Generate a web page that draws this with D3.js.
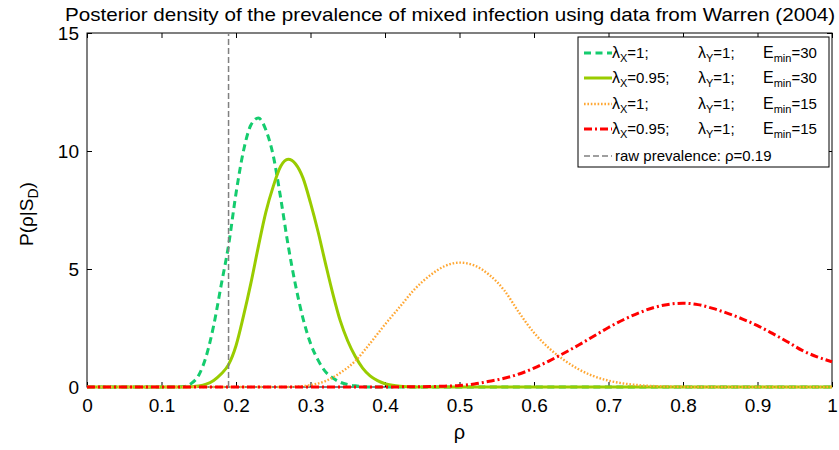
<!DOCTYPE html>
<html><head><meta charset="utf-8">
<script src="https://cdn.jsdelivr.net/npm/d3@7"></script>
<style>body{margin:0;background:#fff} text{font-family:"Liberation Sans",Arial,Helvetica,sans-serif}</style>
</head><body><svg id="c" width="839" height="450"></svg>
<script>
// ---------- data ----------
const xTicks = [0, 0.1, 0.2, 0.3, 0.4, 0.5, 0.6, 0.7, 0.8, 0.9, 1];
const xTickLabels = ["0", "0.1", "0.2", "0.3", "0.4", "0.5", "0.6", "0.7", "0.8", "0.9", "1"];
const yTicks = [0, 5, 10, 15];
const yTickLabels = ["0", "5", "10", "15"];
const rawPrevalence = 0.19;

// λX=1; λY=1; Emin=30
const rhoA = [0, 0.12, 0.13, 0.14, 0.15, 0.16, 0.17, 0.18, 0.19, 0.20, 0.21, 0.22, 0.23, 0.24, 0.25, 0.26, 0.27, 0.28, 0.29, 0.30, 0.31, 0.32, 0.33, 0.34, 0.35, 0.36, 0.37, 0.38, 1];
const densA = [0, 0, 0.02, 0.15, 0.5, 1.3, 2.6, 4.3, 6.0, 8.2, 10.0, 11.1, 11.4, 10.9, 9.8, 8.0, 6.0, 4.3, 2.9, 1.85, 1.15, 0.65, 0.38, 0.2, 0.1, 0.05, 0.02, 0, 0];
// λX=0.95; λY=1; Emin=30
const rhoB = [0, 0.13, 0.14, 0.15, 0.16, 0.17, 0.18, 0.19, 0.20, 0.21, 0.22, 0.23, 0.24, 0.25, 0.26, 0.27, 0.28, 0.29, 0.30, 0.31, 0.32, 0.33, 0.34, 0.35, 0.36, 0.37, 0.38, 0.39, 0.40, 0.41, 0.42, 0.43, 0.44, 1];
const densB = [0, 0, 0.01, 0.04, 0.12, 0.28, 0.55, 0.95, 1.75, 3.0, 4.4, 5.95, 7.4, 8.5, 9.35, 9.65, 9.45, 8.85, 7.8, 6.6, 5.25, 3.95, 2.8, 1.95, 1.3, 0.8, 0.47, 0.27, 0.14, 0.07, 0.03, 0.01, 0, 0];
// λX=1; λY=1; Emin=15
const rhoC = [0, 0.26, 0.28, 0.30, 0.32, 0.34, 0.36, 0.38, 0.40, 0.42, 0.44, 0.46, 0.48, 0.50, 0.52, 0.54, 0.56, 0.58, 0.60, 0.62, 0.64, 0.66, 0.68, 0.70, 0.72, 0.74, 0.76, 0.78, 0.80, 0.82, 1];
const densC = [0, 0, 0.01, 0.08, 0.25, 0.6, 1.1, 1.85, 2.65, 3.4, 4.15, 4.72, 5.12, 5.27, 5.15, 4.75, 4.1, 3.15, 2.3, 1.65, 1.15, 0.75, 0.46, 0.27, 0.15, 0.08, 0.04, 0.02, 0.01, 0, 0];
// λX=0.95; λY=1; Emin=15
const rhoD = [0, 0.40, 0.42, 0.44, 0.46, 0.48, 0.50, 0.52, 0.54, 0.56, 0.58, 0.60, 0.62, 0.64, 0.66, 0.68, 0.70, 0.72, 0.74, 0.76, 0.78, 0.80, 0.82, 0.84, 0.86, 0.88, 0.90, 0.92, 0.94, 0.96, 0.98, 1.00];
const densD = [0, 0, 0.005, 0.01, 0.02, 0.035, 0.06, 0.13, 0.24, 0.37, 0.55, 0.8, 1.1, 1.43, 1.78, 2.15, 2.52, 2.85, 3.13, 3.36, 3.5, 3.55, 3.49, 3.33, 3.12, 2.88, 2.6, 2.27, 1.92, 1.55, 1.28, 1.07];

const lambdaX = ["1", "0.95", "1", "0.95"];
const lambdaY = ["1", "1", "1", "1"];
const eMin = ["30", "30", "15", "15"];

// ---------- styles ----------
const series = [
  {rho: rhoA, dens: densA, color: "#14cc6e", width: 3, dash: "7,4.5"},
  {rho: rhoB, dens: densB, color: "#99cc00", width: 3, dash: null},
  {rho: rhoC, dens: densC, color: "#ffa733", width: 2.4, dash: "1.6,1.8"},
  {rho: rhoD, dens: densD, color: "#ff0000", width: 3, dash: "8,3,2,3"}
];

const svg = d3.select("#c");
const x = d3.scaleLinear().domain([0, 1]).range([87, 832]);
const y = d3.scaleLinear().domain([0, 15]).range([387, 33]);

// title
svg.append("text").attr("x", 65).attr("y", 21).attr("font-size", 19)
  .attr("textLength", 770).attr("lengthAdjust", "spacingAndGlyphs")
  .text("Posterior density of the prevalence of mixed infection using data from Warren (2004)");

// axes
const fmtX = d => xTickLabels[xTicks.indexOf(d)];
const fmtY = d => yTickLabels[yTicks.indexOf(d)];
const gB = svg.append("g").attr("transform", "translate(0,387)")
  .call(d3.axisBottom(x).tickValues(xTicks).tickFormat(fmtX).tickSizeInner(-5).tickSizeOuter(0).tickPadding(12));
const gT = svg.append("g").attr("transform", "translate(0,33)")
  .call(d3.axisTop(x).tickValues(xTicks).tickFormat("").tickSizeInner(-5).tickSizeOuter(0));
const gL = svg.append("g").attr("transform", "translate(87,0)")
  .call(d3.axisLeft(y).tickValues(yTicks).tickFormat(fmtY).tickSizeInner(-5).tickSizeOuter(0).tickPadding(8));
const gR = svg.append("g").attr("transform", "translate(832,0)")
  .call(d3.axisRight(y).tickValues(yTicks).tickFormat("").tickSizeInner(-5).tickSizeOuter(0));
[gB, gT, gL, gR].forEach(g => {
  g.select(".domain").remove();
  g.selectAll("line").attr("stroke", "#000");
  g.selectAll("text").attr("font-size", 19).attr("fill", "#000")
    .style("font-family", '"Liberation Sans",Arial,sans-serif');
});
svg.append("rect").attr("x", x(0)).attr("y", y(15)).attr("width", x(1) - x(0)).attr("height", y(0) - y(15))
  .attr("fill", "none").attr("stroke", "#000").attr("stroke-width", 1);

// axis labels
svg.append("text").attr("x", x(0.5)).attr("y", 439).attr("text-anchor", "middle").attr("font-size", 20).text("ρ");
const yl = svg.append("text").attr("transform", "translate(33,214) rotate(-90)").attr("text-anchor", "middle").attr("font-size", 19);
yl.append("tspan").text("P(ρ|S");
yl.append("tspan").attr("font-size", 14).attr("dy", 5).text("D");
yl.append("tspan").attr("dy", -5).text(")");

// curves
const line = d3.line().x(d => x(d[0])).y(d => y(d[1])).curve(d3.curveMonotoneX);
series.forEach(s => {
  const pts = s.rho.map((r, i) => [r, s.dens[i]]);
  svg.append("path").attr("d", line(pts)).attr("fill", "none")
    .attr("stroke", s.color).attr("stroke-width", s.width)
    .attr("stroke-dasharray", s.dash);
});
// raw prevalence
svg.append("line").attr("x1", x(rawPrevalence)).attr("x2", x(rawPrevalence))
  .attr("y1", y(0)).attr("y2", y(15)).attr("stroke", "#808080").attr("stroke-width", 1.5)
  .attr("stroke-dasharray", "6,3");

// legend
const lg = svg.append("g");
lg.append("rect").attr("x", 578).attr("y", 37).attr("width", 251).attr("height", 130)
  .attr("fill", "#fff").attr("stroke", "#000").attr("stroke-width", 1);
const rowY = [53, 78, 104, 129, 156];
function sub(xPos, yPos, main, subTxt, rest) {
  const tx = lg.append("text").attr("x", xPos).attr("y", yPos + 5).attr("font-size", 15);
  tx.append("tspan").attr("font-size", 16).text(main);
  tx.append("tspan").attr("font-size", 11).attr("dy", 4).text(subTxt);
  tx.append("tspan").attr("dy", -4).text(rest);
}
series.forEach((s, i) => {
  lg.append("line").attr("x1", 584).attr("x2", 612).attr("y1", rowY[i]).attr("y2", rowY[i])
    .attr("stroke", s.color).attr("stroke-width", s.width).attr("stroke-dasharray", s.dash);
  sub(612, rowY[i], "λ", "X", "=" + lambdaX[i] + ";");
  sub(698, rowY[i], "λ", "Y", "=" + lambdaY[i] + ";");
  sub(763, rowY[i], "E", "min", "=" + eMin[i]);
});
lg.append("line").attr("x1", 584).attr("x2", 612).attr("y1", rowY[4]).attr("y2", rowY[4])
  .attr("stroke", "#808080").attr("stroke-width", 1.5).attr("stroke-dasharray", "6,3");
lg.append("text").attr("x", 615).attr("y", rowY[4] + 5).attr("font-size", 15)
  .text("raw prevalence: ρ=" + rawPrevalence);
</script></body></html>
